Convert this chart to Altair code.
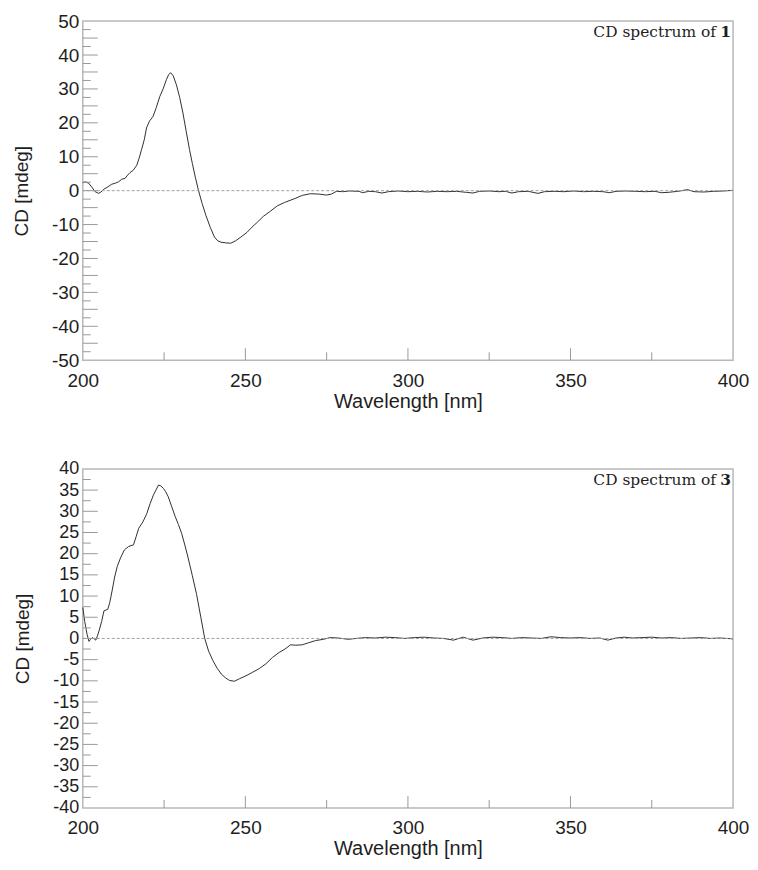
import altair as alt
import pandas as pd

# ---- CD spectrum of 1 ----
wl1 = [200.0, 200.8, 201.8, 202.8, 203.8, 204.9, 205.6, 206.4, 207.5, 208.9,
       210.0, 211.0, 212.0, 213.0, 213.8, 214.5, 215.5, 216.6, 217.3, 218.1,
       218.9, 219.6, 220.5, 221.6, 222.6, 223.7, 224.7, 225.7, 226.4, 227.0,
       227.8, 228.8, 229.8, 230.8, 231.8, 232.8, 233.7, 234.6, 235.6, 236.7,
       237.9, 239.2, 240.5, 241.5, 242.5, 244.0, 245.5, 247.0, 248.6, 250.5,
       252.0, 253.7, 255.5, 257.5, 259.8, 262.0, 265.3, 267.5, 270.0, 272.5,
       275.0, 276.5, 278.0, 280.0, 282.0, 285.0, 286.0, 288.0, 290.0, 292.0,
       294.0, 297.0, 300.0, 303.0, 306.0, 309.0, 312.0, 315.0, 318.0, 320.0,
       322.0, 325.0, 328.0, 330.0, 332.0, 334.0, 337.0, 340.0, 342.0, 345.0,
       348.0, 351.0, 354.0, 357.0, 360.0, 362.0, 364.0, 367.0, 370.0, 373.0,
       376.0, 378.0, 380.0, 383.0, 386.0, 388.0, 391.0, 394.0, 397.0, 400.0]
cd1 = [2.3, 2.6, 2.2, 1.0, -0.3, -0.8, -0.4, 0.4, 1.0, 1.9,
       2.2, 2.6, 3.4, 3.6, 4.6, 5.3, 6.0, 7.5, 9.5, 12.2,
       15.0, 18.5, 20.5, 21.9, 24.5, 27.8, 30.0, 32.7, 34.2, 34.8,
       33.9, 31.2, 27.5, 22.9, 17.5, 12.2, 8.0, 4.0, 0.0, -3.8,
       -7.4, -10.8, -13.7, -14.8, -15.2, -15.4, -15.5, -14.8, -13.7, -12.3,
       -10.8, -9.3, -7.6, -6.2, -4.5, -3.5, -2.3, -1.4, -0.9, -1.0,
       -1.3, -1.0, -0.2, -0.3, -0.1, -0.2, -0.6, -0.2, -0.3, -0.7,
       -0.3, -0.1, -0.3, -0.2, -0.4, -0.2, -0.3, -0.2, -0.5, -0.7,
       -0.2, -0.1, -0.3, -0.2, -0.7, -0.3, -0.2, -0.8, -0.3, -0.2,
       -0.3, -0.1, -0.3, -0.2, -0.3, -0.6, -0.2, -0.1, -0.2, -0.3,
       -0.2, -0.6, -0.5, -0.2, 0.3, -0.3, -0.4, -0.2, -0.1, 0.1]

# ---- CD spectrum of 3 ----
wl3 = [200.0, 200.6, 201.3, 201.9, 202.4, 202.9, 203.5, 204.0, 204.5, 205.0,
       205.8, 206.5, 207.7, 208.3, 209.0, 209.8, 210.6, 211.6, 212.8, 214.1,
       215.6, 216.4, 217.2, 218.5, 219.7, 220.7, 221.7, 222.5, 223.3, 224.0,
       224.8, 225.5, 226.3, 227.3, 228.4, 229.4, 230.4, 231.4, 232.4, 233.7,
       235.0, 236.3, 237.5, 238.7, 240.0, 241.3, 242.6, 243.9, 245.1, 246.6,
       248.2, 250.2, 252.2, 254.3, 256.3, 258.3, 260.4, 262.2, 263.9, 265.5,
       267.5, 269.5, 271.6, 274.0, 276.1, 278.5, 281.7, 284.0, 287.0, 290.0,
       293.0, 296.0, 299.0, 302.0, 305.0, 308.0, 311.0, 314.0, 317.0, 320.0,
       323.0, 326.0, 329.0, 332.0, 335.0, 338.0, 341.0, 344.0, 347.0, 350.0,
       353.0, 356.0, 359.0, 361.5, 364.0, 366.5, 369.0, 372.0, 375.0, 378.0,
       381.0, 384.0, 387.0, 390.0, 393.0, 396.0, 400.0]
cd3 = [7.3, 4.0, 1.0, -0.7, -0.2, 0.2, -0.1, -0.4, 0.6, 1.8,
       4.0, 6.5, 6.9, 8.5, 11.2, 14.5, 17.0, 19.0, 20.9, 21.7,
       22.1, 24.0, 26.0, 27.5, 29.5, 31.8, 33.8, 35.0, 36.2, 36.0,
       35.4, 34.6, 33.4, 31.2, 28.8, 26.9, 24.8, 22.0, 19.0, 14.8,
       10.4, 5.0, 0.0, -3.0, -5.2, -7.0, -8.4, -9.3, -9.9, -10.1,
       -9.5, -8.8, -8.0, -7.1, -6.0, -4.5, -3.3, -2.5, -1.5, -1.6,
       -1.5, -1.0, -0.5, -0.2, 0.2, 0.1, -0.2, 0.0, 0.2, 0.1,
       0.3, 0.2, 0.0, 0.2, 0.3, 0.1, 0.0, -0.4, 0.3, -0.4,
       0.1, 0.3, 0.2, 0.0, 0.2, 0.1, 0.0, 0.4, 0.2, 0.1,
       0.2, 0.0, 0.1, -0.4, 0.1, 0.3, 0.1, 0.2, 0.3, 0.1,
       0.2, 0.0, 0.1, 0.2, 0.0, 0.1, -0.1]

x_labels = [200, 250, 300, 350, 400]
x_major_ticks = [250, 300, 350]
x_minor_ticks = [225, 275, 325, 375]

y1_labels = [-50, -40, -30, -20, -10, 0, 10, 20, 30, 40, 50]
y1_major_ticks = [-45, -40, -35, -30, -25, -20, -15, -10, -5, 0, 5, 10, 15, 20, 25, 30, 35, 40, 45]
y1_minor_ticks = [-47.5, -42.5, -37.5, -32.5, -27.5, -22.5, -17.5, -12.5, -7.5, -2.5,
                  2.5, 7.5, 12.5, 17.5, 22.5, 27.5, 32.5, 37.5, 42.5, 47.5]

y3_labels = [-40, -35, -30, -25, -20, -15, -10, -5, 0, 5, 10, 15, 20, 25, 30, 35, 40]
y3_major_ticks = [-35, -30, -25, -20, -15, -10, -5, 0, 5, 10, 15, 20, 25, 30, 35]
y3_minor_ticks = [-37.5, -32.5, -27.5, -22.5, -17.5, -12.5, -7.5, -2.5,
                  2.5, 7.5, 12.5, 17.5, 22.5, 27.5, 32.5, 37.5]

W = 652
TICK = "#9a9a9a"
INK = "#1e1e1e"


def panel(wl, cd, ydom, ylabels, ymaj, ymin, number, H, ylabsize):
    xs = alt.Scale(domain=[200, 400], nice=False, zero=False)
    ys = alt.Scale(domain=ydom, nice=False, zero=False)
    xax = alt.Axis(values=x_labels, title="Wavelength [nm]", labelFontSize=19,
                   titleFontSize=20, labelPadding=11, titlePadding=1,
                   labelFlush=False, labelOverlap=False,
                   labelExpr="toString(datum.value)")
    yax = alt.Axis(values=ylabels, title="CD [mdeg]", labelFontSize=ylabsize,
                   titleFontSize=19, labelPadding=4, titlePadding=20,
                   labelFlush=False, labelOverlap=False,
                   labelExpr="toString(datum.value)")
    X = lambda: alt.X("nm:Q", scale=xs, axis=xax, title="Wavelength [nm]")
    Y = lambda: alt.Y("cd:Q", scale=ys, axis=yax, title="CD [mdeg]")
    df = pd.DataFrame({"nm": wl, "cd": cd})
    line = alt.Chart(df).mark_line(color="#303030", strokeWidth=1).encode(x=X(), y=Y())
    zero = alt.Chart(pd.DataFrame({"cd": [0]})).mark_rule(
        color="#a0a0a0", strokeDash=[3, 2], strokeWidth=1).encode(y=Y())
    yt_maj = alt.Chart(pd.DataFrame({"cd": ymaj})).mark_rule(color=TICK, strokeWidth=1).encode(
        y=Y(), x=alt.value(0), x2=alt.value(15))
    yt_min = alt.Chart(pd.DataFrame({"cd": ymin})).mark_rule(color=TICK, strokeWidth=1).encode(
        y=Y(), x=alt.value(0), x2=alt.value(8))
    xt_maj = alt.Chart(pd.DataFrame({"nm": x_major_ticks})).mark_rule(color=TICK, strokeWidth=1).encode(
        x=X(), y=alt.value(H), y2=alt.value(H - 12))
    xt_min = alt.Chart(pd.DataFrame({"nm": x_minor_ticks})).mark_rule(color=TICK, strokeWidth=1).encode(
        x=X(), y=alt.value(H), y2=alt.value(H - 8))
    t1 = alt.Chart(pd.DataFrame({"t": ["CD spectrum of"]})).mark_text(
        font="DejaVu Serif", fontSize=15.5, align="right", baseline="alphabetic", color=INK).encode(
        text="t:N", x=alt.value(W - 2 - 15), y=alt.value(16))
    t2 = alt.Chart(pd.DataFrame({"t": [number]})).mark_text(
        font="DejaVu Serif", fontSize=15.5, fontWeight="bold", align="right", baseline="alphabetic",
        color=INK).encode(text="t:N", x=alt.value(W - 2), y=alt.value(16))
    return alt.layer(line, zero, yt_maj, yt_min, xt_maj, xt_min, t1, t2).properties(width=W, height=H)


top = panel(wl1, cd1, [-50, 50], y1_labels, y1_major_ticks, y1_minor_ticks, "1", 340, 19)
bottom = panel(wl3, cd3, [-40, 40], y3_labels, y3_major_ticks, y3_minor_ticks, "3", 340, 18)

chart = alt.vconcat(top, bottom, spacing=109, bounds="flush").configure_view(
    stroke="#b8b8b8", strokeWidth=1.5
).configure_axis(
    labelFont="Liberation Sans", titleFont="Liberation Sans", labelColor=INK, titleColor=INK,
    titleFontWeight="normal", ticks=False, domain=False, grid=False
).properties(padding={"left": 3, "top": 2, "right": 0, "bottom": 0})

chart.save("out.html", embed_options={"renderer": "svg", "actions": False})
